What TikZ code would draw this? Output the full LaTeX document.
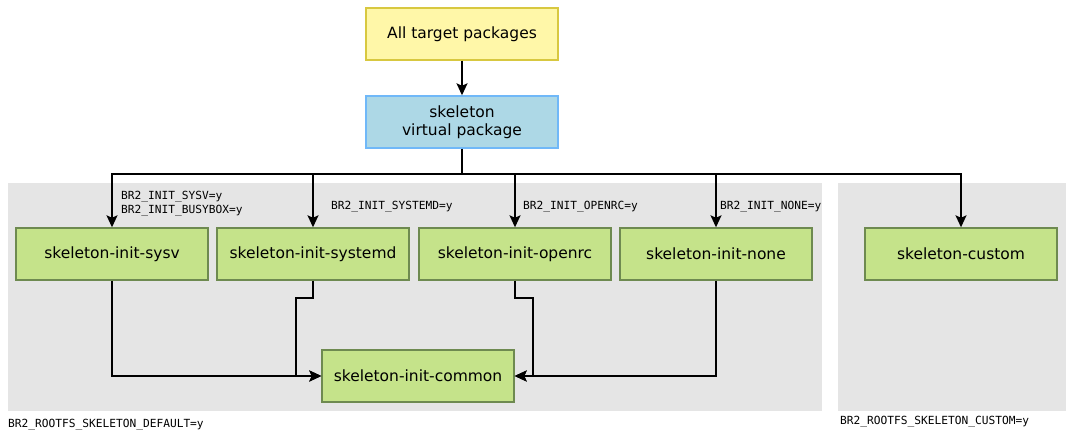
\documentclass[tikz,border=0pt]{standalone}
\usepackage{fontspec}
\setmainfont{DejaVu Sans}
\newfontfamily\monof{DejaVu Sans Mono}
\usetikzlibrary{arrows.meta}
\definecolor{yfill}{HTML}{FFF7A8}
\definecolor{ydraw}{HTML}{D8C840}
\definecolor{bfill}{HTML}{ADD8E6}
\definecolor{bdraw}{HTML}{70B8F8}
\definecolor{gfill}{HTML}{C5E38A}
\definecolor{gdraw}{HTML}{6E8A50}
\definecolor{panel}{HTML}{E5E5E5}
\tikzset{
  pkg/.style={draw, line width=1.4pt, minimum width=192pt, minimum height=52pt, inner sep=0pt, font=\fontsize{15.5}{18.5}\selectfont, align=center},
  ybox/.style={pkg, fill=yfill, draw=ydraw},
  bbox/.style={pkg, fill=bfill, draw=bdraw},
  gbox/.style={pkg, fill=gfill, draw=gdraw},
  conn/.style={line width=1.7pt, -{Stealth[length=12pt,width=11pt,inset=2.5pt]}},
  lbl/.style={font=\monof\fontsize{11.2}{14}\selectfont, inner sep=0pt, anchor=west, align=left},
}
\begin{document}
\begin{tikzpicture}[x=1pt,y=-1pt]
\useasboundingbox (0,0) rectangle (1066,431);
\fill[panel] (8,183) rectangle (822,411);
\fill[panel] (838,183) rectangle (1066,411);
\node[lbl] (ldef) at (8,425) {BR2\_ROOTFS\_SKELETON\_DEFAULT=y};
\node[lbl] (lcus) at (840,422) {BR2\_ROOTFS\_SKELETON\_CUSTOM=y};

\node[ybox] (all) at (462,34) {All target packages};
\node[bbox] (skel) at (462,122) {skeleton\\virtual package};
\node[gbox] (sysv) at (112,254) {skeleton-init-sysv};
\node[gbox] (systemd) at (313,254) {skeleton-init-systemd};
\node[gbox] (openrc) at (515,254) {skeleton-init-openrc};
\node[gbox] (none) at (716,254) {skeleton-init-none};
\node[gbox] (custom) at (961,254) {skeleton-custom};
\node[gbox] (common) at (418,376) {skeleton-init-common};

\coordinate (bus) at (462,174);
\draw[conn] (all) -- (skel);
\draw[line width=2.6pt] (skel.south) -- (bus);
\draw[conn] (bus) -| (sysv.north);
\draw[conn] (bus) -| (systemd.north);
\draw[conn] (bus) -| (openrc.north);
\draw[conn] (bus) -| (none.north);
\draw[conn] (bus) -| (custom.north);

\node[lbl] (l1) at (121,204) {BR2\_INIT\_SYSV=y\\BR2\_INIT\_BUSYBOX=y};
\node[lbl] (l2) at (331,207) {BR2\_INIT\_SYSTEMD=y};
\node[lbl] (l3) at (523,207) {BR2\_INIT\_OPENRC=y};
\node[lbl] (l4) at (720,207) {BR2\_INIT\_NONE=y};

\draw[conn] (sysv.south) |- (common.west);
\draw[conn] (systemd.south) -- ++(0,17) -| (296,376) -- (common.west);
\draw[conn] (openrc.south) -- ++(0,17) -| (533,376) -- (common.east);
\draw[conn] (none.south) |- (common.east);
\end{tikzpicture}
\end{document}
